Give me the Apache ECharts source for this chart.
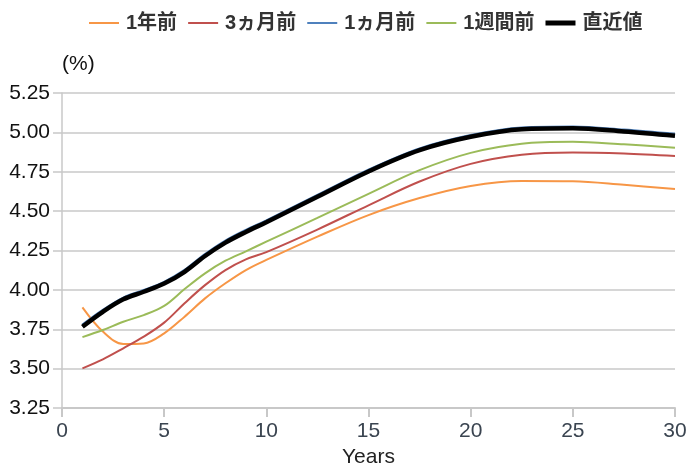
<!DOCTYPE html>
<html>
<head>
<meta charset="utf-8">
<script src="https://cdn.jsdelivr.net/npm/echarts@6/dist/echarts.min.js"></script>
<style>
  html, body { margin: 0; padding: 0; background: #fff; }
  #chart { width: 688px; height: 464px; }
</style>
</head>
<body>
<div id="chart"></div>
<script>
// maturities (years)
var years = [1, 2, 3, 4, 5, 6, 7, 8, 9, 10, 12.5, 15, 17.5, 20, 22.5, 25, 27.5, 30];

// yield curves (%)
var oneYearAgo  = [3.889, 3.735, 3.656, 3.66, 3.724, 3.83, 3.946, 4.042, 4.126, 4.19, 4.338, 4.475, 4.583, 4.66, 4.692, 4.69, 4.667, 4.64];
var threeMonths = [3.502, 3.559, 3.629, 3.703, 3.792, 3.915, 4.03, 4.126, 4.194, 4.24, 4.383, 4.537, 4.688, 4.80, 4.858, 4.873, 4.866, 4.85];
var oneMonth    = [3.778, 3.872, 3.95, 3.998, 4.05, 4.126, 4.226, 4.312, 4.38, 4.44, 4.601, 4.762, 4.897, 4.982, 5.03, 5.036, 5.016, 4.989];
var oneWeek     = [3.70, 3.745, 3.798, 3.84, 3.898, 4.005, 4.105, 4.185, 4.245, 4.306, 4.457, 4.61, 4.76, 4.87, 4.928, 4.94, 4.924, 4.903];
var latest      = [3.766, 3.861, 3.94, 3.988, 4.04, 4.115, 4.215, 4.30, 4.368, 4.43, 4.591, 4.752, 4.887, 4.972, 5.02, 5.026, 5.006, 4.979];

var seriesNames = ["1年前", "3ヵ月前", "1ヵ月前", "1週間前", "直近値"];
var seriesData = [oneYearAgo, threeMonths, oneMonth, oneWeek, latest];
var colors = ["#f79646", "#c0504d", "#4f81bd", "#9bbb59", "#000000"];
var widths = [2, 2, 2.5, 2, 4.5];

function pairs(arr) {
  return arr.map(function (v, i) { return [years[i], v]; });
}

var font = "'Liberation Sans', 'Noto Sans CJK JP', sans-serif";

var chart = echarts.init(document.getElementById("chart"));
chart.setOption({
  animation: false,
  color: colors,
  legend: {
    top: 8,
    left: 84,
    itemWidth: 30,
    itemHeight: 20,
    itemGap: 11,
    itemStyle: { borderWidth: 0 },
    textStyle: { fontFamily: font, fontSize: 20, fontWeight: "bold", color: "#333", padding: [0, 0, 0, 2] },
    data: seriesNames.map(function (name, i) {
      return {
        name: name,
        icon: i === 4 ? "path://M0,0H30V5H0Z" : "path://M0,0H30V2H0Z"
      };
    })
  },
  grid: { left: 62, right: 13, top: 93, bottom: 56, outerBoundsMode: "none", containLabel: false },
  xAxis: {
    type: "value",
    min: 0,
    max: 30,
    interval: 5,
    name: "Years",
    nameLocation: "middle",
    nameGap: 36,
    nameTextStyle: { fontFamily: font, fontSize: 21, color: "#222" },
    axisLine: { lineStyle: { color: "#c8c8c8", width: 2 } },
    axisTick: { show: true, length: 9, lineStyle: { color: "#c8c8c8", width: 2 } },
    axisLabel: { fontFamily: font, fontSize: 21, color: "#3a4450", margin: 13 },
    splitLine: { show: false }
  },
  yAxis: {
    type: "value",
    min: 3.25,
    max: 5.25,
    interval: 0.25,
    name: "(%)",
    nameLocation: "end",
    nameGap: 18,
    nameTextStyle: { fontFamily: font, fontSize: 21, color: "#111", align: "left" },
    axisLine: { show: true, lineStyle: { color: "#c8c8c8", width: 1.5 } },
    axisTick: { show: true, length: 9, lineStyle: { color: "#c8c8c8", width: 1.5 } },
    axisLabel: {
      fontFamily: font, fontSize: 21, color: "#111", margin: 12,
      formatter: function (v) { return v.toFixed(2); }
    },
    splitLine: { lineStyle: { color: "#c8c8c8", width: 1.5 } }
  },
  series: seriesNames.map(function (name, i) {
    return {
      name: name,
      type: "line",
      smooth: 0.35,
      symbol: "none",
      data: pairs(seriesData[i]),
      lineStyle: { color: colors[i], width: widths[i] },
      itemStyle: { color: colors[i] },
      z: i + 2
    };
  })
});
</script>
</body>
</html>
